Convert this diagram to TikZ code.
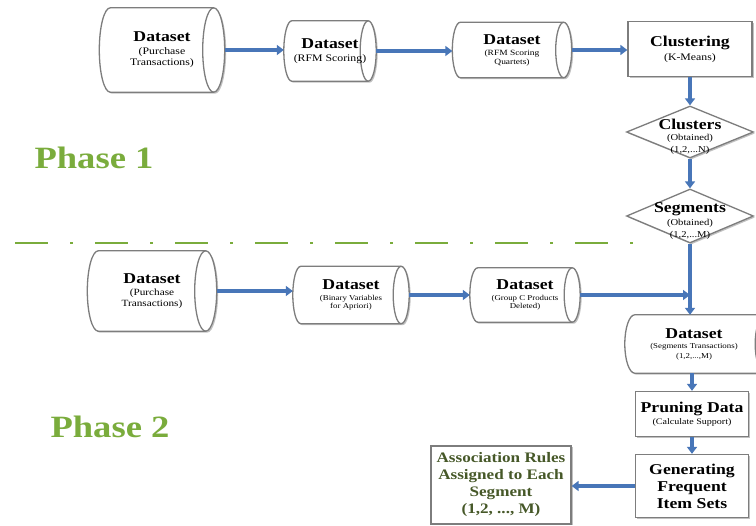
\documentclass[tikz,border=0pt]{standalone}
\usepackage{fontspec}
\setmainfont{Liberation Serif}[FakeStretch=1.18]
\usetikzlibrary{arrows.meta,shapes.geometric,shadows,calc,backgrounds}
\definecolor{arrblue}{RGB}{72,118,184}
\definecolor{phgreen}{RGB}{122,172,60}
\definecolor{bordgray}{RGB}{125,125,125}
\definecolor{assocgreen}{RGB}{70,88,40}
\tikzset{
 arr/.style={draw=arrblue, line width=4pt, -{Triangle[length=7pt,width=10pt]}},
 boxsh/.style={drop shadow={shadow xshift=1.5pt,shadow yshift=-1.5pt,fill=black!40,opacity=0.6}},
 procbox/.style={rectangle, draw=bordgray, line width=1.3pt, fill=white, boxsh, align=center, inner sep=0pt},
 cylarea/.style={rectangle, inner sep=0pt, align=center},
 cylline/.style={draw=bordgray, line width=1.3pt, fill=white, boxsh},
 cylinner/.style={draw=bordgray, line width=1.3pt},
 decision/.style={diamond, draw=bordgray, line width=1.3pt, fill=white, boxsh, inner sep=0pt},
 dtxt/.style={align=center, inner sep=0pt},
 phase/.style={text=phgreen, font=\bfseries\fontsize{31}{34}\selectfont},
 phaseline/.style={draw=phgreen, line width=2.5pt, dash pattern=on 33pt off 22pt on 3pt off 22pt},
}
\newcommand\hd{\bfseries\fontsize{15}{16}\selectfont}
\newcommand\sbt[1]{\mdseries\fontsize{#1}{#1}\selectfont}
\newcommand\cylo[2]{%
 \begin{pgfonlayer}{background}
 \path[cylline] let \p1=(#1.north west), \p2=(#1.south east), \n1={0.5*(\y1-\y2)} in
   (\x1+#2pt,\y1) -- (\x2-#2pt,\y1) arc[start angle=90,end angle=-90,x radius=#2pt,y radius={\n1*1pt}]
   -- (\x1+#2pt,\y2) arc[start angle=270,end angle=90,x radius=#2pt,y radius={\n1*1pt}] -- cycle;
 \path[cylinner] let \p1=(#1.north east), \p2=(#1.south east), \n1={0.5*(\y1-\y2)} in
   (\x1-#2pt,\y1) arc[start angle=90,end angle=270,x radius=#2pt,y radius={\n1*1pt}];
 \end{pgfonlayer}}
\begin{document}
\begin{tikzpicture}[x=1pt,y=-1pt]
\useasboundingbox (0,0) rectangle (756,526);
\begin{pgfonlayer}{background}
\fill[white] (0,0) rectangle (756,526);
\end{pgfonlayer}

% Phase 1 row
\node[cylarea, minimum width=125pt, minimum height=84pt, font=\sbt{10}] (a1) at (162,50)
  {{\hd Dataset}\\[3pt](Purchase\\[1pt]Transactions)};
\cylo{a1}{11}
\node[cylarea, minimum width=92pt, minimum height=60pt, font=\sbt{10}] (a2) at (330,51)
  {{\hd Dataset}\\[3pt](RFM Scoring)};
\cylo{a2}{8}
\node[cylarea, minimum width=119pt, minimum height=55pt, font=\sbt{8}] (a3) at (512,50)
  {{\hd Dataset}\\[3pt](RFM Scoring\\[1pt]Quartets)};
\cylo{a3}{8}
\node[procbox, minimum width=124pt, minimum height=55pt, font=\sbt{10}] (clus) at (690,49)
  {{\hd Clustering}\\[3pt](K-Means)};

\node[decision, minimum width=127pt, minimum height=52pt] (d1) at (690,132) {};
\node[dtxt, font=\sbt{9}] (d1t) at ($(d1)+(0,5)$) {{\hd Clusters}\\[2pt](Obtained)\\[3pt](1,2,...N)};
\node[decision, minimum width=127pt, minimum height=54pt] (d2) at (690,216) {};
\node[dtxt, font=\sbt{9}] (d2t) at ($(d2)+(0,5)$) {{\hd Segments}\\[2pt](Obtained)\\[3pt](1,2,...M)};

\node[phase] (ph1) at (94,158) {Phase 1};
\node[phase] (ph2) at (110,427) {Phase 2};

\draw[phaseline] (15,243) -- (655,243);

% Phase 2 row
\node[cylarea, minimum width=129pt, minimum height=80pt, font=\sbt{9.5}] (b1) at (152,291)
  {{\hd Dataset}\\[3pt](Purchase\\[1pt]Transactions)};
\cylo{b1}{11}
\node[cylarea, minimum width=116pt, minimum height=57pt, font=\sbt{7.5}] (b2) at (351,295)
  {{\hd Dataset}\\[3pt](Binary Variables\\[1pt]for Apriori)};
\cylo{b2}{8}
\node[cylarea, minimum width=110pt, minimum height=54pt, font=\sbt{7.5}] (b3) at (525,295)
  {{\hd Dataset}\\[3pt](Group C Products\\[1pt]Deleted)};
\cylo{b3}{8}

\node[cylarea, minimum width=150pt, minimum height=58pt, font=\sbt{7.5}] (c) at (700,344)
  {\hspace*{-12pt}{\hd Dataset}\\[3pt]\hspace*{-12pt}(Segments Transactions)\\[2pt]\hspace*{-12pt}(1,2,...,M)};
\cylo{c}{10}

\node[procbox, minimum width=113pt, minimum height=45pt, font=\sbt{8.5}] (prune) at (692,414)
  {{\hd Pruning Data}\\[2pt](Calculate Support)};
\node[procbox, minimum width=113pt, minimum height=63pt, font=\bfseries\fontsize{15}{17}\selectfont] (gen) at (692,486)
  {Generating\\Frequent\\Item Sets};
\node[procbox, minimum width=140pt, minimum height=78pt, text=assocgreen, font=\bfseries\fontsize{14.5}{17}\selectfont] (assoc) at (501,485)
  {Association Rules\\Assigned to Each\\Segment\\(1,2, ..., M)};

% connectors
\draw[arr] (a1.east) -- (a1.east -| a2.west);
\draw[arr] (a2.east) -- (a2.east -| a3.west);
\draw[arr] (a3.east) -- (a3.east -| clus.west);
\draw[arr] (clus.south) -- (d1.north);
\draw[arr] (d1.south) -- (d2.north);
\draw[arr] (b1.east) -- (b1.east -| b2.west);
\draw[arr] (b2.east) -- (b2.east -| b3.west);
\coordinate (join) at (b3.east -| d2.south);
\draw[arr] (b3.east) -- (join);
\draw[arr] (d2.south) -- (d2.south |- c.north);
\draw[arr] (prune.north |- c.south) -- (prune.north);
\draw[arr] (prune.south) -- (gen.north);
\draw[arr] (gen.west) -- (gen.west -| assoc.east);
\end{tikzpicture}
\end{document}
